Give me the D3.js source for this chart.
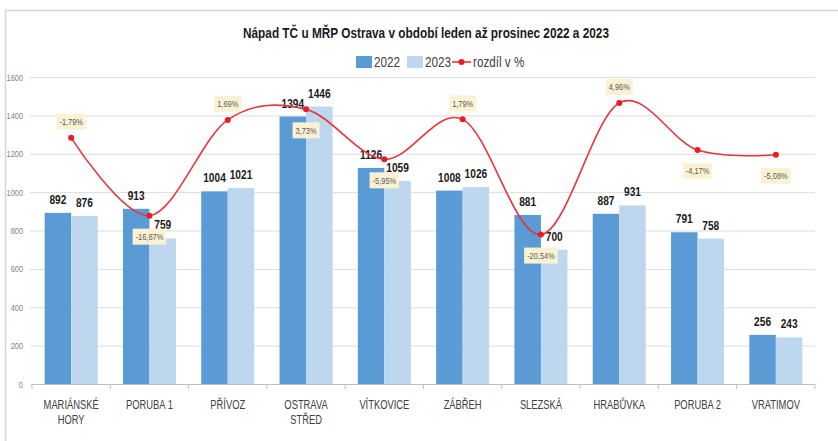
<!DOCTYPE html>
<html>
<head>
<meta charset="utf-8">
<script src="https://d3js.org/d3.v7.min.js"></script>
<style>
body { margin: 0; background: #ffffff; }
svg { display: block; font-family: "Liberation Sans", Arial, sans-serif; }
</style>
</head>
<body>
<div id="chart"></div>
<script type="text/javascript">
  // data
  var categories = ["MARIÁNSKÉ HORY", "PORUBA 1", "PŘÍVOZ", "OSTRAVA STŘED", "VÍTKOVICE",
                    "ZÁBŘEH", "SLEZSKÁ", "HRABŮVKA", "PORUBA 2", "VRATIMOV"];
  var values2022 = [892, 913, 1004, 1394, 1126, 1008, 881, 887, 791, 256];
  var values2023 = [876, 759, 1021, 1446, 1059, 1026, 700, 931, 758, 243];
  var diffPct = [-1.79, -16.87, 1.69, 3.73, -5.95, 1.79, -20.54, 4.96, -4.17, -5.08];
  var yTicks = [0, 200, 400, 600, 800, 1000, 1200, 1400, 1600];
  var pctLabelSide = ["top", "bottom", "top", "bottom", "bottom", "top", "bottom", "top", "bottom", "bottom"];

  var width = 838, height = 441;
  var plotLeft = 32, plotRight = 815, plotTop = 77, plotBottom = 384;
  var squeeze = 0.78;

  var svg = d3.select("#chart").append("svg").attr("width", width).attr("height", height);

  // frame of the pasted chart
  svg.append("path").attr("d", "M5.5," + height + "V10.5H" + width)
     .attr("fill", "none").attr("stroke", "#d4d4d4").attr("stroke-width", 1.5);

  var x = d3.scaleBand().domain(categories).range([plotLeft, plotRight]);
  var xSub = d3.scaleBand().domain(["2022", "2023"]).range([0, x.bandwidth()]).paddingOuter(0.477);
  var y = d3.scaleLinear().domain([0, 1600]).range([plotBottom, plotTop]);
  // hidden secondary axis for the percent line
  var y2 = d3.scaleLinear().domain([-49.5, 10]).range([plotBottom, plotTop]);

  // gridlines + y labels
  var yAxis = d3.axisLeft(y).tickValues(yTicks).tickFormat(d3.format("d"))
     .tickSize(-(plotRight - plotLeft + 2)).tickPadding(7);
  var gy = svg.append("g").attr("transform", "translate(" + (plotLeft - 2) + ",0)").call(yAxis);
  gy.select(".domain").remove();
  gy.selectAll("line").attr("stroke", "#dcdcdc").attr("stroke-width", 1);
  gy.selectAll("text").attr("fill", "#7f7f7f").style("font-size", "9.5px").style("font-family", null);

  // bars
  var rows = categories.map(function(c, i) {
    return {cat: c, v: [{k: "2022", val: values2022[i]}, {k: "2023", val: values2023[i]}]};
  });
  var colors = {"2022": "#5b9bd5", "2023": "#bdd7ee"};

  var groups = svg.selectAll(".grp").data(rows).enter().append("g")
     .attr("transform", function(d) { return "translate(" + x(d.cat) + ",0)"; });

  groups.selectAll("rect").data(function(d) { return d.v; }).enter().append("rect")
     .attr("x", function(d) { return xSub(d.k); })
     .attr("width", xSub.bandwidth())
     .attr("y", function(d) { return y(d.val); })
     .attr("height", function(d) { return plotBottom - y(d.val); })
     .attr("fill", function(d) { return colors[d.k]; });

  groups.selectAll(".val").data(function(d) { return d.v; }).enter().append("text")
     .attr("x", function(d) { return xSub(d.k) + xSub.bandwidth() / 2; })
     .attr("y", function(d) { return y(d.val) - 9; })
     .attr("text-anchor", "middle")
     .attr("fill", "#1a1a1a")
     .style("font-size", "13px").style("font-weight", "bold")
     .text(function(d) { return d.val; });

  // x axis
  svg.append("line").attr("x1", plotLeft).attr("x2", plotRight)
     .attr("y1", plotBottom + 0.5).attr("y2", plotBottom + 0.5).attr("stroke", "#bfbfbf");
  var bounds = categories.map(function(c) { return x(c); }).concat([plotRight]);
  svg.selectAll(".xtick").data(bounds).enter().append("line")
     .attr("x1", function(d) { return d; }).attr("x2", function(d) { return d; })
     .attr("y1", plotBottom).attr("y2", plotBottom + 5)
     .attr("stroke", "#bfbfbf");

  svg.selectAll(".xlab").data(categories).enter().append("text")
     .attr("x", function(d) { return x(d) + x.bandwidth() / 2; })
     .attr("y", 409)
     .attr("text-anchor", "middle")
     .attr("fill", "#404040")
     .style("font-size", "12px")
     .each(function(d) {
       var words = d.split(" ");
       var t = d3.select(this);
       var lines = (words.length > 1 && d != "PORUBA 1" && d != "PORUBA 2") ? words : [d];
       lines.forEach(function(w, i) {
         t.append("tspan").attr("x", x(d) + x.bandwidth() / 2).attr("dy", i ? 14.5 : 0).text(w);
       });
     });

  // percent line
  var pts = categories.map(function(c, i) { return {cat: c, p: diffPct[i], side: pctLabelSide[i]}; });
  var line = d3.line()
     .x(function(d) { return x(d.cat) + x.bandwidth() / 2; })
     .y(function(d) { return y2(d.p); })
     .curve(d3.curveCatmullRom.alpha(0));

  svg.append("path").attr("d", line(pts))
     .attr("fill", "none").attr("stroke", "#e8353d").attr("stroke-width", 1.6);

  svg.selectAll(".dot").data(pts).enter().append("circle")
     .attr("cx", function(d) { return x(d.cat) + x.bandwidth() / 2; })
     .attr("cy", function(d) { return y2(d.p); })
     .attr("r", 3).attr("fill", "#e81c24");

  var fmt = function(v) { return v.toFixed(2).replace(".", ",") + "%"; };
  var pl = svg.selectAll(".pl").data(pts).enter().append("g")
     .attr("transform", function(d) {
       var cy = y2(d.p) + (d.side == "top" ? -16 : 21);
       return "translate(" + (x(d.cat) + x.bandwidth() / 2) + "," + cy + ")";
     });
  pl.append("rect").attr("y", -8).attr("height", 16).attr("fill", "#fbf1d3");
  pl.append("text").attr("text-anchor", "middle").attr("dy", "0.35em")
     .attr("fill", "#595959").style("font-size", "9.5px")
     .text(function(d) { return fmt(d.p); });

  // legend
  var lg = svg.append("g").attr("transform", "translate(0,62)");
  lg.append("rect").attr("x", 356).attr("y", -6).attr("width", 16).attr("height", 12).attr("fill", colors["2022"]);
  lg.append("text").attr("x", 374).attr("dy", "0.35em").style("font-size", "15px").attr("fill", "#404040").text("2022");
  lg.append("rect").attr("x", 407).attr("y", -6).attr("width", 16).attr("height", 12).attr("fill", colors["2023"]);
  lg.append("text").attr("x", 425).attr("dy", "0.35em").style("font-size", "15px").attr("fill", "#404040").text("2023");
  lg.append("line").attr("x1", 452).attr("x2", 471).attr("y1", 0).attr("y2", 0).attr("stroke", "#e8353d").attr("stroke-width", 1.6);
  lg.append("circle").attr("cx", 461.5).attr("cy", 0).attr("r", 3).attr("fill", "#e81c24");
  lg.append("text").attr("x", 473).attr("dy", "0.35em").style("font-size", "15px").attr("fill", "#404040").text("rozdíl v %");

  // squeeze every text to a narrow face (the reference uses a condensed font)
  svg.selectAll("text").each(function() {
    var t = d3.select(this);
    var spans = t.selectAll("tspan");
    var targets = spans.size() ? spans.nodes() : [this];
    targets.forEach(function(n) {
      var w = n.getComputedTextLength();
      if (w > 0) d3.select(n).attr("textLength", w * squeeze).attr("lengthAdjust", "spacingAndGlyphs");
    });
  });

  // size the percent label boxes from their squeezed text
  pl.each(function() {
    var w = +d3.select(this).select("text").attr("textLength") + 6;
    d3.select(this).select("rect").attr("x", -w / 2).attr("width", w);
  });

  // title
  svg.append("text").attr("x", 426).attr("y", 38).attr("text-anchor", "middle")
     .attr("fill", "#1a1a1a").style("font-size", "15.5px").style("font-weight", "bold")
     .attr("textLength", 366).attr("lengthAdjust", "spacingAndGlyphs")
     .text("Nápad TČ u MŘP Ostrava v období leden až prosinec 2022 a 2023");
</script>
</body>
</html>
